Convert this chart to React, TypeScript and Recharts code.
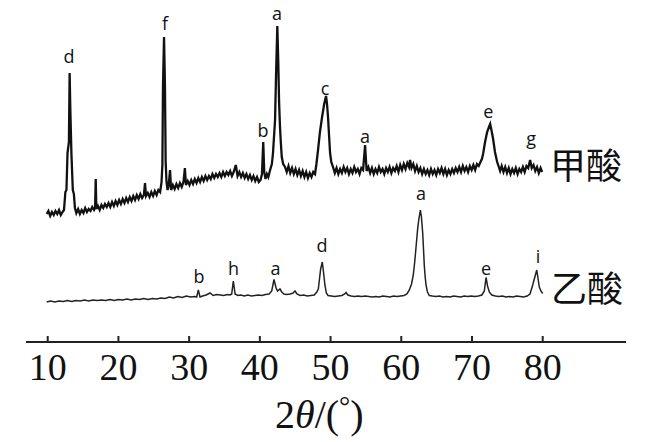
import React from "react";
import { ComposedChart, Line, Scatter, XAxis, YAxis } from "recharts";

// 2θ (deg), intensity (arbitrary)
const formicPoints: [number, number][] = [
  [9.86, 128], [10.1, 131], [10.35, 126], [10.6, 130], [10.85, 127], [11.1, 131], [11.35, 128], [11.6, 132],
  [11.85, 127], [12.1, 130], [12.3, 132], [12.5, 150], [12.65, 152], [12.8, 189], [13.0, 200], [13.1, 269],
  [13.2, 232], [13.35, 189], [13.55, 152], [13.7, 148], [13.85, 134], [14.05, 129], [14.3, 133], [14.55, 128],
  [14.8, 132], [15.05, 129], [15.3, 134], [15.55, 130], [15.8, 133], [16.05, 131], [16.3, 135], [16.55, 132],
  [16.7, 134], [16.79, 163], [16.88, 133], [17.1, 136], [17.35, 132], [17.6, 137], [17.85, 134], [18.1, 138],
  [18.35, 135], [18.6, 139], [18.85, 135], [19.1, 140], [19.35, 136], [19.6, 141], [19.85, 137], [20.1, 142],
  [20.35, 138], [20.6, 143], [20.85, 139], [21.1, 144], [21.35, 140], [21.6, 145], [21.85, 141], [22.1, 146],
  [22.35, 142], [22.6, 147], [22.85, 143], [23.1, 148], [23.35, 144], [23.6, 147], [23.76, 159], [23.9, 146],
  [24.15, 149], [24.4, 145], [24.65, 150], [24.9, 146], [25.15, 151], [25.4, 147], [25.65, 152], [25.9, 150],
  [26.1, 160], [26.22, 178], [26.3, 255], [26.45, 305], [26.58, 257], [26.68, 180], [26.8, 160], [26.95, 152],
  [27.1, 156], [27.3, 172], [27.45, 152], [27.7, 157], [27.95, 153], [28.2, 158], [28.45, 154], [28.7, 159],
  [28.95, 155], [29.2, 160], [29.4, 174], [29.55, 157], [29.8, 161], [30.05, 157], [30.3, 162], [30.55, 158],
  [30.8, 163], [31.05, 159], [31.3, 164], [31.55, 160], [31.8, 165], [32.05, 161], [32.3, 166], [32.55, 162],
  [32.8, 166], [33.05, 163], [33.3, 168], [33.55, 164], [33.8, 168], [34.05, 165], [34.3, 169], [34.55, 165],
  [34.8, 170], [35.05, 166], [35.3, 170], [35.55, 167], [35.8, 171], [36.05, 166], [36.3, 170], [36.6, 177],
  [36.85, 166], [37.1, 170], [37.35, 165], [37.6, 169], [37.85, 164], [38.1, 168], [38.35, 163], [38.6, 167],
  [38.85, 162], [39.1, 166], [39.35, 161], [39.6, 165], [39.85, 160], [40.1, 162], [40.3, 168], [40.48, 200],
  [40.62, 170], [40.8, 163], [41.0, 168], [41.2, 165], [41.45, 172], [41.7, 178], [41.86, 189], [42.0, 205],
  [42.15, 222], [42.3, 270], [42.47, 316], [42.6, 282], [42.72, 240], [42.85, 215], [42.98, 198], [43.1, 185],
  [43.3, 178], [43.56, 175], [43.8, 170], [44.05, 176], [44.3, 169], [44.55, 174], [44.8, 168], [45.05, 173],
  [45.3, 167], [45.55, 172], [45.8, 166], [46.05, 171], [46.3, 165], [46.55, 170], [46.8, 164], [47.05, 169],
  [47.3, 165], [47.55, 170], [47.8, 168], [48.0, 178], [48.23, 192], [48.5, 210], [48.8, 225], [49.1, 238],
  [49.36, 246], [49.5, 238], [49.64, 225], [49.8, 205], [49.93, 189], [50.1, 180], [50.35, 175], [50.6, 169],
  [50.85, 174], [51.1, 168], [51.35, 173], [51.6, 169], [51.85, 175], [52.1, 170], [52.35, 174], [52.6, 168],
  [52.85, 173], [53.1, 169], [53.35, 175], [53.6, 170], [53.85, 173], [54.1, 168], [54.35, 174], [54.6, 172],
  [54.88, 197], [55.1, 171], [55.35, 175], [55.6, 169], [55.85, 174], [56.1, 168], [56.35, 173], [56.6, 169],
  [56.85, 175], [57.1, 170], [57.35, 173], [57.6, 168], [57.85, 174], [58.1, 170], [58.35, 175], [58.6, 169],
  [58.85, 174], [59.1, 171], [59.35, 176], [59.6, 170], [59.85, 177], [60.1, 172], [60.35, 178], [60.6, 173],
  [60.85, 179], [61.1, 175], [61.24, 182], [61.45, 174], [61.7, 178], [61.95, 171], [62.2, 176], [62.45, 170],
  [62.7, 174], [62.95, 168], [63.2, 173], [63.45, 168], [63.7, 172], [63.95, 167], [64.2, 173], [64.45, 168],
  [64.7, 172], [64.95, 167], [65.2, 173], [65.45, 169], [65.7, 174], [65.95, 168], [66.2, 173], [66.45, 167],
  [66.7, 172], [66.95, 168], [67.2, 173], [67.45, 169], [67.7, 174], [67.95, 170], [68.2, 175], [68.45, 170],
  [68.7, 176], [68.95, 171], [69.2, 175], [69.45, 170], [69.7, 176], [69.95, 172], [70.2, 177], [70.45, 172],
  [70.7, 178], [70.95, 176], [71.2, 180], [71.4, 183], [71.57, 188], [71.85, 200], [72.14, 210], [72.4, 215],
  [72.57, 218], [72.75, 212], [72.99, 203], [73.25, 190], [73.56, 180], [73.8, 175], [73.98, 171], [74.2, 176],
  [74.45, 170], [74.7, 175], [74.95, 169], [75.2, 174], [75.45, 168], [75.7, 173], [75.95, 169], [76.2, 174],
  [76.45, 168], [76.7, 173], [76.95, 170], [77.2, 175], [77.45, 170], [77.7, 176], [77.95, 174], [78.22, 182],
  [78.45, 174], [78.7, 177], [78.95, 171], [79.2, 175], [79.45, 169], [79.7, 174], [79.92, 170],
];

const aceticPoints: [number, number][] = [
  [9.86, 40], [10.4, 41], [11.0, 40], [11.6, 41], [12.2, 40.5], [12.8, 41.5], [13.4, 40.5], [14.0, 41.5],
  [14.6, 41], [15.2, 42], [15.8, 41], [16.4, 42], [17.0, 41.5], [17.6, 42], [18.2, 41.5], [18.8, 42.5],
  [19.4, 41.5], [20.0, 42.5], [20.6, 42], [21.2, 43], [21.8, 42], [22.4, 43], [23.0, 42.5], [23.6, 43.5],
  [24.2, 42.5], [24.8, 43.5], [25.4, 43], [26.0, 44], [26.6, 43.5], [27.2, 45], [27.8, 44], [28.4, 45.5],
  [29.0, 44.5], [29.6, 46], [30.2, 45], [30.8, 45.5], [31.07, 45], [31.3, 52], [31.54, 45], [31.9, 46],
  [32.4, 47], [32.95, 49], [33.4, 46.5], [33.9, 47.5], [34.4, 47], [34.9, 46.5], [35.4, 47.5], [35.8, 47],
  [36.02, 48], [36.25, 61], [36.5, 48], [36.9, 46.5], [37.3, 47], [37.8, 46], [38.3, 47], [38.8, 46],
  [39.3, 46.5], [39.8, 47], [40.3, 46.5], [40.8, 47.5], [41.3, 48], [41.68, 51], [42.0, 62.5], [42.3, 54],
  [42.5, 51], [42.85, 53], [43.1, 50], [43.4, 48], [43.8, 47.5], [44.3, 48], [44.7, 49], [44.97, 51],
  [45.25, 48], [45.7, 46.5], [46.2, 47], [46.7, 46], [47.2, 46.5], [47.7, 47], [48.05, 50], [48.27, 53],
  [48.45, 64], [48.6, 73], [48.83, 80], [49.0, 70], [49.2, 57], [49.4, 49], [49.64, 46.5], [50.1, 46],
  [50.6, 45.5], [51.1, 46], [51.6, 46.5], [52.0, 48], [52.19, 49.5], [52.45, 47], [52.9, 46], [53.4, 45.5],
  [53.9, 46], [54.4, 45.5], [54.9, 46], [55.4, 45.5], [55.9, 45], [56.4, 45.5], [56.9, 45], [57.4, 46],
  [57.9, 45.5], [58.4, 45], [58.9, 46], [59.4, 45.5], [59.9, 46], [60.4, 46.5], [60.8, 48], [61.14, 52],
  [61.45, 58], [61.7, 67], [61.9, 80], [62.09, 95], [62.3, 112], [62.47, 122], [62.7, 132], [62.85, 125],
  [63.03, 109], [63.15, 92], [63.26, 76], [63.38, 65], [63.5, 57], [63.7, 50], [63.97, 46.5], [64.4, 46],
  [64.9, 45.5], [65.4, 46], [65.9, 45], [66.4, 45.5], [66.9, 45], [67.4, 46], [67.9, 45.5], [68.4, 45],
  [68.9, 46], [69.4, 45.5], [69.9, 46], [70.4, 45.5], [70.9, 46], [71.4, 47], [71.74, 51], [71.99, 64.5],
  [72.2, 56], [72.45, 50], [72.8, 47], [73.3, 46], [73.8, 45.5], [74.3, 46], [74.8, 45], [75.3, 45.5],
  [75.8, 45], [76.3, 46], [76.8, 45.5], [77.3, 45], [77.8, 46], [78.2, 48], [78.59, 57], [78.85, 64],
  [79.16, 72], [79.35, 63], [79.52, 55], [79.75, 51], [80.0, 48.5],
];

// peak letters: [2θ, height, letter]
const formicPeaks: [number, number, string][] = [
  [13.01, 279, "d"], [26.59, 312, "f"], [42.43, 322, "a"], [40.45, 205, "b"],
  [49.22, 247, "c"], [54.87, 199, "a"], [72.3, 224, "e"], [78.35, 197, "g"],
];
const aceticPeaks: [number, number, string][] = [
  [31.4, 59, "b"], [36.28, 67, "h"], [42.22, 67, "a"], [48.79, 90, "d"],
  [62.79, 142, "a"], [71.99, 67, "e"], [79.33, 79, "i"],
];
const sampleNames: [number, number, string][] = [
  [81.04, 179, "甲酸"],
  [81.18, 56, "乙酸"],
];

const xTicks = [10, 20, 30, 40, 50, 60, 70, 80];

const toXY = (pts: [number, number][]) => pts.map(([x, y]) => ({ x, y }));
const toLabels = (pts: [number, number, string][]) => pts.map(([x, y, t]) => ({ x, y, t }));

const PeakLetter = (props: any) => {
  const { cx, cy, payload } = props;
  return (
    <text x={cx} y={cy} textAnchor="middle" fontFamily="'Open Sans', sans-serif" fontSize={18} fill="#111">
      {payload.t}
    </text>
  );
};

const SampleName = (props: any) => {
  const { cx, cy, payload } = props;
  return (
    <text x={cx} y={cy} dominantBaseline="central" fontFamily="'Noto Sans CJK SC'" fontSize={36} fill="#111">
      {payload.t}
    </text>
  );
};

const AxisTick = (props: any) => {
  const { x, y, payload } = props;
  return (
    <g>
      <line x1={x} y1={y} x2={x} y2={y - 6} stroke="#222" strokeWidth={2} />
      <text x={x} y={y + 38} textAnchor="middle" fontFamily="'Liberation Serif', serif" fontSize={38} fill="#111">
        {payload.value}
      </text>
    </g>
  );
};

const AxisTitle = (props: any) => {
  const { viewBox } = props;
  const y = viewBox.y + 86;
  return (
    <text x={275} y={y} fontFamily="'Liberation Serif', serif" fontSize={40} fill="#111">
      2<tspan fontStyle="italic">θ</tspan>/(<tspan fontSize={28} dy={-13}>°</tspan>
      <tspan dy={13}>)</tspan>
    </text>
  );
};

export default function App() {
  return (
    <div style={{ position: "absolute", left: 0, top: 0, width: 656, height: 442, background: "#fff" }}>
      <ComposedChart width={656} height={442} margin={{ top: 0, right: 30, bottom: 0, left: 26 }}>
        <XAxis
          dataKey="x"
          type="number"
          domain={[6.93, 91.78]}
          allowDataOverflow
          ticks={xTicks}
          tick={<AxisTick />}
          tickLine={false}
          tickSize={0}
          tickMargin={0}
          height={100}
          axisLine={{ stroke: "#222", strokeWidth: 2.2 }}
          label={<AxisTitle />}
        />
        <YAxis type="number" domain={[0, 342]} allowDataOverflow hide />
        <Line
          data={toXY(formicPoints)}
          dataKey="y"
          type="linear"
          stroke="#111"
          strokeWidth={2.3}
          dot={false}
          isAnimationActive={false}
        />
        <Line
          data={toXY(aceticPoints)}
          dataKey="y"
          type="linear"
          stroke="#222"
          strokeWidth={1.5}
          dot={false}
          isAnimationActive={false}
        />
        <Scatter data={toLabels(formicPeaks)} dataKey="y" shape={<PeakLetter />} isAnimationActive={false} />
        <Scatter data={toLabels(aceticPeaks)} dataKey="y" shape={<PeakLetter />} isAnimationActive={false} />
        <Scatter data={toLabels(sampleNames)} dataKey="y" shape={<SampleName />} isAnimationActive={false} />
      </ComposedChart>
    </div>
  );
}
